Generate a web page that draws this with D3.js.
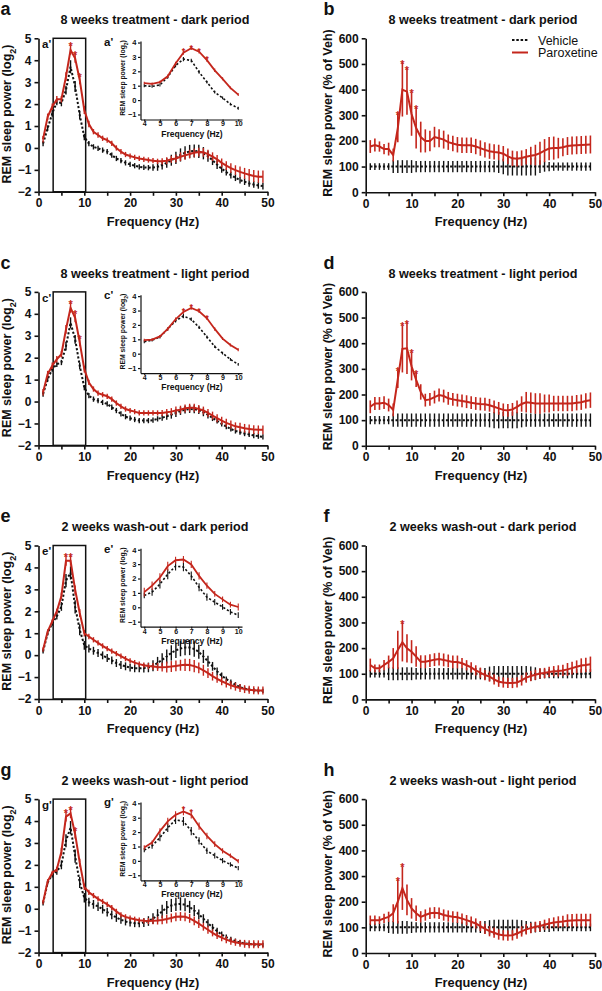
<!DOCTYPE html>
<html><head><meta charset="utf-8">
<script src="https://cdn.jsdelivr.net/npm/d3@7"></script>
<style>
body{margin:0;background:#fff}
svg{display:block}
text{font-family:"Liberation Sans",Arial,Helvetica,sans-serif;fill:#111}
</style>
</head><body>
<svg id="chart" width="602" height="991"></svg>
<script>
// ---------------- DATA ----------------
const freq = [1,2,3,4,5,6,7,8,9,10,11,12,13,14,15,16,17,18,19,20,21,22,23,24,25,26,27,28,29,30,31,32,33,34,35,36,37,38,39,40,41,42,43,44,45,46,47,48,49];
const insetFreq = [4,4.5,5,5.5,6,6.5,7,7.5,8,8.5,9,9.5,10];
const logTicks = [-2,-1,0,1,2,3,4,5];
const pctTicks = [0,100,200,300,400,500,600];
const freqTicks = [0,10,20,30,40,50];
const freqMinorTicks = [5,15,25,35,45];
const insetFreqTicks = [4,5,6,7,8,9,10];
const insetLogTicks = [-1,0,1,2,3,4];
const seriesNames = ["Vehicle","Paroxetine"];
const rowTitles = ["8 weeks treatment - dark period","8 weeks treatment - light period","2 weeks wash-out - dark period","2 weeks wash-out - light period"];
const leftLetters = ["a","c","e","g"];
const rightLetters = ["b","d","f","h"];

// Panel a (log2 power)
const aVeh = [0.2,0.9,1.57,2.1,2.05,2.64,3.7,2.8,1.5,0.5, 0.2,0.05,-0.02,-0.1,-0.17,-0.33,-0.48,-0.58,-0.68,-0.75, -0.81,-0.86,-0.89,-0.9,-0.89,-0.86,-0.78,-0.68,-0.56,-0.45, -0.32,-0.22,-0.16,-0.14,-0.16,-0.24,-0.38,-0.56,-0.76,-0.95, -1.1,-1.24,-1.36,-1.47,-1.54,-1.62,-1.67,-1.71,-1.74];
const aVehSem = [0.12,0.12,0.15,0.15,0.15,0.2,0.3,0.25,0.2,0.15, 0.12,0.12,0.12,0.12,0.12,0.12,0.12,0.12,0.12,0.12, 0.12,0.12,0.12,0.12,0.15,0.18,0.2,0.22,0.25,0.28, 0.3,0.3,0.3,0.3,0.3,0.28,0.25,0.22,0.2,0.18, 0.16,0.15,0.15,0.15,0.15,0.15,0.15,0.15,0.15];
const aPar = [0.4,1.42,1.88,2.22,2.22,3.25,4.47,4.09,3.1,1.73, 1.09,0.74,0.59,0.44,0.36,0.21,0,-0.17,-0.3,-0.37, -0.43,-0.48,-0.52,-0.55,-0.58,-0.61,-0.61,-0.58,-0.52,-0.48, -0.4,-0.34,-0.28,-0.22,-0.19,-0.2,-0.28,-0.4,-0.52,-0.68, -0.81,-0.92,-1.01,-1.09,-1.16,-1.22,-1.28,-1.31,-1.31];
const aParSem = [0.15,0.15,0.15,0.15,0.15,0.2,0.22,0.2,0.2,0.18, 0.15,0.12,0.12,0.12,0.12,0.12,0.12,0.12,0.12,0.12, 0.12,0.12,0.12,0.12,0.12,0.12,0.14,0.15,0.16,0.18, 0.2,0.2,0.2,0.2,0.2,0.2,0.2,0.2,0.2,0.2, 0.2,0.22,0.22,0.24,0.25,0.26,0.27,0.28,0.28];
const aStars = [7,8,9];
const aInsVeh = [1.0,0.95,1.05,1.6,2.4,2.85,2.75,1.95,1.25,0.55,0.15,-0.28,-0.57];
const aInsVehSem = [0.1,0.1,0.1,0.1,0.12,0.15,0.12,0.12,0.1,0.1,0.1,0.1,0.1];
const aInsPar = [1.18,1.13,1.25,1.65,2.54,3.3,3.6,3.36,2.78,2.07,1.48,0.85,0.38];
const aInsParSem = [0.1,0.1,0.1,0.12,0.12,0.15,0.12,0.12,0.12,0.12,0.1,0.1,0.1];
const aInsStars = [6.5,7,7.5,8];

// Panel c
const cVeh = [0.34,1.02,1.48,1.7,1.78,2.53,3.59,2.84,1.63,0.64, 0.27,0.11,0.04,-0.04,-0.11,-0.26,-0.41,-0.56,-0.69,-0.76, -0.82,-0.87,-0.87,-0.87,-0.85,-0.79,-0.74,-0.67,-0.6,-0.52, -0.43,-0.37,-0.34,-0.35,-0.39,-0.49,-0.61,-0.75,-0.88,-1.02, -1.14,-1.25,-1.34,-1.4,-1.46,-1.5,-1.55,-1.58,-1.61];
const cVehSem = [0.12,0.12,0.12,0.12,0.12,0.2,0.25,0.2,0.15,0.12, 0.12,0.12,0.12,0.12,0.12,0.12,0.12,0.12,0.12,0.12, 0.12,0.12,0.12,0.12,0.12,0.12,0.14,0.16,0.18,0.18, 0.18,0.18,0.18,0.18,0.18,0.18,0.16,0.14,0.12,0.12, 0.12,0.12,0.12,0.12,0.12,0.12,0.12,0.12,0.12];
const cPar = [0.42,1.25,1.63,1.93,2.16,3.29,4.27,3.82,2.7,1.48, 0.87,0.57,0.38,0.31,0.24,0.11,-0.07,-0.22,-0.34,-0.41, -0.46,-0.52,-0.52,-0.52,-0.52,-0.52,-0.52,-0.49,-0.46,-0.41, -0.37,-0.31,-0.28,-0.28,-0.34,-0.41,-0.52,-0.64,-0.76,-0.87, -0.97,-1.05,-1.13,-1.17,-1.22,-1.25,-1.28,-1.29,-1.29];
const cParSem = [0.15,0.15,0.15,0.15,0.15,0.2,0.22,0.2,0.18,0.15, 0.12,0.12,0.12,0.12,0.12,0.12,0.12,0.12,0.12,0.12, 0.12,0.12,0.12,0.12,0.12,0.12,0.14,0.15,0.16,0.18, 0.18,0.18,0.18,0.18,0.18,0.18,0.18,0.18,0.18,0.18, 0.18,0.18,0.18,0.2,0.2,0.2,0.2,0.2,0.2];
const cStars = [7,8,9];
const cInsVeh = [0.83,0.94,1.16,1.72,2.28,2.62,2.39,1.83,1.16,0.49,0.04,-0.4,-0.74];
const cInsVehSem = [0.1,0.1,0.1,0.1,0.12,0.15,0.12,0.12,0.1,0.1,0.1,0.1,0.1];
const cInsPar = [0.94,0.98,1.2,1.72,2.39,2.9,3.18,2.95,2.46,1.72,1.05,0.6,0.27];
const cInsParSem = [0.1,0.1,0.1,0.12,0.12,0.12,0.12,0.12,0.12,0.12,0.1,0.1,0.1];
const cInsStars = [6.5,7,7.5,8];

// Panel e
const eVeh = [0.17,1.0,1.46,1.77,2.22,3.4,3.75,2.2,1.16,0.45, 0.3,0.2,0.1,-0.01,-0.13,-0.24,-0.36,-0.45,-0.51,-0.57, -0.6,-0.6,-0.59,-0.56,-0.48,-0.36,-0.21,-0.06,0.1,0.22, 0.3,0.35,0.35,0.28,0.15,-0.06,-0.28,-0.51,-0.74,-0.94, -1.09,-1.23,-1.35,-1.45,-1.53,-1.57,-1.6,-1.62,-1.63];
const eVehSem = [0.1,0.1,0.12,0.15,0.2,0.3,0.3,0.3,0.25,0.2, 0.18,0.18,0.18,0.18,0.18,0.18,0.18,0.18,0.18,0.18, 0.18,0.18,0.2,0.22,0.25,0.28,0.3,0.32,0.35,0.35, 0.35,0.35,0.35,0.35,0.32,0.3,0.25,0.2,0.18,0.15, 0.12,0.12,0.12,0.12,0.1,0.1,0.1,0.1,0.1];
const ePar = [0.25,1.08,1.54,2.0,2.7,4.3,4.3,2.98,1.92,1.0, 0.85,0.7,0.56,0.42,0.3,0.18,0.07,-0.05,-0.16,-0.26, -0.34,-0.41,-0.46,-0.5,-0.52,-0.54,-0.55,-0.54,-0.52,-0.49, -0.46,-0.44,-0.45,-0.5,-0.58,-0.69,-0.82,-0.96,-1.08,-1.19, -1.29,-1.37,-1.44,-1.5,-1.55,-1.58,-1.6,-1.61,-1.61];
const eParSem = [0.1,0.1,0.1,0.12,0.15,0.22,0.22,0.2,0.18,0.15, 0.12,0.12,0.12,0.12,0.12,0.12,0.12,0.12,0.12,0.12, 0.12,0.12,0.12,0.14,0.16,0.18,0.2,0.25,0.25,0.25, 0.25,0.28,0.28,0.28,0.25,0.25,0.22,0.2,0.18,0.18, 0.18,0.18,0.18,0.18,0.18,0.18,0.18,0.18,0.18];
const eStars = [6,7];
const eInsVeh = [0.82,1.05,1.61,2.3,2.86,2.8,2.18,1.39,0.7,0.36,0.02,-0.32,-0.55];
const eInsVehSem = [0.2,0.25,0.3,0.35,0.3,0.3,0.3,0.28,0.25,0.22,0.2,0.2,0.2];
const eInsPar = [1.05,1.5,2.07,2.86,3.27,3.32,2.98,2.18,1.5,0.93,0.55,0.18,0.02];
const eInsParSem = [0.3,0.3,0.3,0.3,0.25,0.25,0.25,0.25,0.22,0.2,0.2,0.2,0.25];
const eInsStars = [];

// Panel g
const gVeh = [0.25,1.2,1.55,1.7,2.0,3.1,3.7,2.4,1.2,0.5, 0.3,0.2,0.1,-0.02,-0.15,-0.28,-0.4,-0.5,-0.58,-0.63, -0.66,-0.66,-0.63,-0.56,-0.45,-0.3,-0.12,0.05,0.15,0.2, 0.22,0.18,0.08,-0.08,-0.25,-0.45,-0.66,-0.85,-1.02,-1.18, -1.3,-1.4,-1.48,-1.54,-1.58,-1.61,-1.63,-1.64,-1.65];
const gVehSem = [0.1,0.1,0.12,0.15,0.2,0.3,0.3,0.3,0.25,0.22, 0.2,0.2,0.2,0.2,0.2,0.2,0.2,0.18,0.18,0.18, 0.18,0.18,0.2,0.22,0.25,0.28,0.3,0.3,0.3,0.3, 0.3,0.3,0.28,0.25,0.22,0.2,0.18,0.16,0.15,0.14, 0.12,0.12,0.12,0.12,0.1,0.1,0.1,0.1,0.1];
const gPar = [0.3,1.25,1.63,1.8,2.6,4.2,4.35,3.4,2.1,1.0, 0.75,0.6,0.45,0.33,0.2,0.05,-0.12,-0.28,-0.37,-0.43, -0.48,-0.52,-0.55,-0.56,-0.55,-0.54,-0.51,-0.47,-0.42,-0.37, -0.35,-0.37,-0.44,-0.55,-0.68,-0.82,-0.96,-1.1,-1.22,-1.32, -1.41,-1.48,-1.53,-1.57,-1.6,-1.62,-1.62,-1.62,-1.62];
const gParSem = [0.1,0.1,0.1,0.12,0.18,0.22,0.22,0.2,0.18,0.15, 0.12,0.12,0.12,0.12,0.12,0.12,0.12,0.12,0.12,0.12, 0.12,0.12,0.12,0.14,0.16,0.18,0.2,0.2,0.2,0.2, 0.2,0.2,0.2,0.2,0.2,0.18,0.18,0.16,0.16,0.16, 0.16,0.16,0.16,0.16,0.18,0.18,0.18,0.18,0.18];
const gStars = [6,7,8];
const gInsVeh = [0.75,1.05,1.61,2.3,2.86,2.75,2.07,1.39,0.7,0.36,0.02,-0.25,-0.5];
const gInsVehSem = [0.15,0.2,0.25,0.3,0.3,0.3,0.28,0.25,0.22,0.2,0.18,0.15,0.15];
const gInsPar = [0.93,1.27,2.07,2.75,3.2,3.43,3.2,2.41,1.73,1.16,0.7,0.36,-0.02];
const gInsParSem = [0.15,0.15,0.2,0.25,0.25,0.25,0.25,0.25,0.22,0.2,0.18,0.15,0.15];
const gInsStars = [6.5,7];

// Right panels (% of vehicle)
const vehPct = [100,100,100,100,100,100,100,100,100,100, 100,100,100,100,100,100,100,100,100,100, 100,100,100,100,100,100,100,100,100,100, 100,100,100,100,100,100,100,100,100,100, 100,100,100,100,100,100,100,100,100];
const bVehSem = [13,13,13,13,13,25,25,25,25,25, 22,22,22,22,22,22,22,22,22,22, 22,22,22,22,22,22,22,22,25,30, 35,35,35,35,35,35,35,25,20,18, 16,16,16,16,16,16,16,16,16];
const bPar = [178,184,178,168,168,145,250,400,392,305, 250,215,200,200,215,210,205,195,190,185, 183,183,183,178,172,165,160,157,155,150, 140,132,130,133,138,142,145,152,162,170, 172,172,175,180,182,183,184,185,186];
const bParSem = [25,25,20,20,25,25,55,105,90,85, 80,60,45,40,40,35,35,30,30,30, 30,30,30,30,30,30,30,30,30,30, 30,30,30,30,30,35,40,45,45,45, 45,40,35,35,35,35,35,35,35];
const bStars = [7,8,9,10,11];

const dVehSem = [16,16,16,16,16,26,26,26,26,26, 26,26,26,26,26,26,26,26,26,26, 26,26,26,26,26,26,28,32,32,32, 32,32,32,28,26,26,26,26,26,26, 26,26,26,26,26,26,26,26,26];
const dPar = [152,165,165,168,159,140,260,378,380,310, 257,210,178,181,190,198,194,185,181,178, 175,172,168,165,163,162,158,152,146,140, 138,142,152,163,170,168,165,165,165,165, 165,165,165,165,165,168,170,175,178];
const dParSem = [25,25,25,25,25,25,35,92,100,55, 28,30,25,25,25,25,25,25,25,25, 25,25,25,25,25,25,25,25,25,25, 25,25,25,30,40,40,40,40,35,35, 30,30,30,30,30,30,30,30,30];
const dStars = [7,8,9,10,11];

const fVehSem = [15,15,15,15,25,25,25,25,25,25, 22,22,22,22,22,22,22,22,22,22, 22,22,22,22,22,22,28,30,30,30, 30,30,30,30,30,28,25,20,18,18, 18,18,18,18,18,18,18,18,18];
const fPar = [134,121,121,134,146,160,193,223,199,186, 167,147,147,151,155,157,154,150,146,146, 141,133,125,113,104,95,89,78,69,66, 64,64,66,74,85,91,96,101,103,107, 110,111,113,117,122,127,132,134,137];
const fParSem = [25,15,15,20,25,40,75,75,55,45, 40,25,25,25,25,25,25,25,25,25, 20,20,20,20,20,20,20,20,20,20, 20,20,20,20,20,20,20,20,20,20, 20,22,22,25,25,25,28,28,30];
const fStars = [8];

const hVehSem = [15,15,15,15,22,25,25,25,25,22, 20,20,20,20,20,20,20,20,20,20, 20,20,20,20,22,25,28,30,30,30, 30,30,30,28,25,22,20,18,18,18, 15,15,15,15,15,15,15,15,15];
const hPar = [128,128,128,135,141,155,200,253,207,174, 155,141,148,155,157,155,148,144,141,139, 134,128,122,115,105,94,85,79,72,69, 68,69,76,84,92,97,102,105,110,115, 119,121,123,126,127,128,128,128,128];
const hParSem = [18,18,15,18,20,35,85,85,60,40, 30,22,22,22,22,22,22,22,22,22, 20,20,20,20,20,20,20,20,20,20, 20,20,20,20,20,20,20,20,20,20, 20,22,22,25,25,25,25,25,25];
const hStars = [7,8];

// ---------------- DRAWING ----------------
const RED = "#c4261c";
const BLACK = "#111";
const ROW = 253.6;
const svg = d3.select("#chart");

const leftPanels = [
  {veh:aVeh, vehSem:aVehSem, par:aPar, parSem:aParSem, stars:aStars,
   ins:{veh:aInsVeh, vehSem:aInsVehSem, par:aInsPar, parSem:aInsParSem, stars:aInsStars}},
  {veh:cVeh, vehSem:cVehSem, par:cPar, parSem:cParSem, stars:cStars,
   ins:{veh:cInsVeh, vehSem:cInsVehSem, par:cInsPar, parSem:cInsParSem, stars:cInsStars}},
  {veh:eVeh, vehSem:eVehSem, par:ePar, parSem:eParSem, stars:eStars,
   ins:{veh:eInsVeh, vehSem:eInsVehSem, par:eInsPar, parSem:eInsParSem, stars:eInsStars}},
  {veh:gVeh, vehSem:gVehSem, par:gPar, parSem:gParSem, stars:gStars,
   ins:{veh:gInsVeh, vehSem:gInsVehSem, par:gInsPar, parSem:gInsParSem, stars:gInsStars}}
];
const rightPanels = [
  {vehSem:bVehSem, par:bPar, parSem:bParSem, stars:bStars},
  {vehSem:dVehSem, par:dPar, parSem:dParSem, stars:dStars},
  {vehSem:fVehSem, par:fPar, parSem:fParSem, stars:fStars},
  {vehSem:hVehSem, par:hPar, parSem:hParSem, stars:hStars}
];

function styleAxis(g, w, fs) {
  g.select(".domain").attr("stroke", BLACK).attr("stroke-width", w);
  g.selectAll(".tick line").attr("stroke", BLACK).attr("stroke-width", w);
  g.selectAll(".tick text").attr("fill", BLACK).style("font-size", fs + "px").style("font-weight", "bold")
    .style("font-family", '"Liberation Sans",Arial,sans-serif');
}

function drawSeries(g, x, y, xs, mean, sem, color, dashed, lw, ebw) {
  const pts = xs.map((f, i) => ({f, m: mean[i], s: sem[i]}));
  g.append("g").selectAll("line").data(pts).join("line")
    .attr("x1", d => x(d.f)).attr("x2", d => x(d.f))
    .attr("y1", d => y(d.m - d.s)).attr("y2", d => y(d.m + d.s))
    .attr("stroke", color).attr("stroke-width", ebw);
  g.append("path").datum(pts)
    .attr("d", d3.line().x(d => x(d.f)).y(d => y(d.m)))
    .attr("fill", "none").attr("stroke", color).attr("stroke-width", lw)
    .attr("stroke-dasharray", dashed ? "2.2,2" : null);
}

function drawStars(g, x, y, xs, mean, sem, stars, fs, gap) {
  const pts = stars.map(f => { const i = xs.indexOf(f); return {f, top: mean[i] + sem[i]}; });
  g.append("g").selectAll("text").data(pts).join("text")
    .attr("x", d => x(d.f)).attr("y", d => y(d.top) + gap)
    .attr("text-anchor", "middle").style("font-size", fs + "px").style("font-weight", "bold")
    .style("fill", RED).text("*");
}

function xAxisBlock(g, x, yPix, ticks, minor, size, fs) {
  const ax = g.append("g").attr("transform", `translate(0,${yPix})`)
    .call(d3.axisBottom(x).tickValues(ticks).tickSize(size).tickSizeOuter(0).tickPadding(3).tickFormat(d3.format("d")));
  styleAxis(ax, 1.6, fs);
  if (minor) {
    const mx = g.append("g").attr("transform", `translate(0,${yPix})`)
      .call(d3.axisBottom(x).tickValues(minor).tickSize(size).tickSizeOuter(0).tickFormat(""));
    mx.select(".domain").remove();
    mx.selectAll(".tick line").attr("stroke", BLACK).attr("stroke-width", 1.6);
  }
}

leftPanels.forEach((p, i) => {
  const oy = i * ROW;
  const g = svg.append("g");
  const x = d3.scaleLinear().domain([0, 50]).range([38.5, 267.5]);
  const y = d3.scaleLinear().domain([-2, 5]).range([oy + 191.8, oy + 38.3]);

  g.append("text").attr("x", 0.5).attr("y", oy + 15).style("font-size", "18px").style("font-weight", "bold").text(leftLetters[i]);
  g.append("text").attr("x", 155).attr("y", oy + 24).attr("text-anchor", "middle")
    .style("font-size", "12.6px").style("font-weight", "bold").text(rowTitles[i]);

  // y axis
  const ya = g.append("g").attr("transform", "translate(38.5,0)")
    .call(d3.axisLeft(y).tickValues(logTicks).tickSize(4).tickSizeOuter(0).tickPadding(3).tickFormat(d3.format("d")));
  styleAxis(ya, 1.6, 12);
  xAxisBlock(g, x, oy + 191.8, freqTicks, freqMinorTicks, 4, 12);

  // axis titles
  g.append("text").attr("x", 153).attr("y", oy + 226).attr("text-anchor", "middle")
    .style("font-size", "12.8px").style("font-weight", "bold").text("Frequency (Hz)");
  const yt = g.append("text").attr("transform", `translate(10.5,${oy + 114}) rotate(-90)`).attr("text-anchor", "middle")
    .style("font-size", "12.5px").style("font-weight", "bold");
  yt.append("tspan").text("REM sleep power (log");
  yt.append("tspan").attr("baseline-shift", "sub").style("font-size", "9px").text("2");
  yt.append("tspan").text(")");

  // zoom rectangle
  g.append("rect").attr("x", x(3.2)).attr("y", y(5)).attr("width", x(10.3) - x(3.2)).attr("height", y(-2) - y(5))
    .attr("fill", "none").attr("stroke", BLACK).attr("stroke-width", 1.5);
  g.append("text").attr("x", 42).attr("y", oy + 48).style("font-size", "11.5px").style("font-weight", "bold").text(leftLetters[i] + "'");

  drawSeries(g, x, y, freq, p.veh, p.vehSem, BLACK, true, 2, 1.4);
  drawSeries(g, x, y, freq, p.par, p.parSem, RED, false, 2, 1.4);
  drawStars(g, x, y, freq, p.par, p.parSem, p.stars, 11, 5);

  // inset
  const ix = d3.scaleLinear().domain([3.76, 10.24]).range([140.5, 242]);
  const iy = d3.scaleLinear().domain([-1.35, 4.1]).range([oy + 119.5, oy + 41.1]);
  const iya = g.append("g").attr("transform", "translate(140.5,0)")
    .call(d3.axisLeft(iy).tickValues(insetLogTicks).tickSize(2.5).tickSizeOuter(0).tickPadding(1.5).tickFormat(d3.format("d")));
  styleAxis(iya, 1.2, 7.5);
  const ixa = g.append("g").attr("transform", `translate(0,${oy + 119.5})`)
    .call(d3.axisBottom(ix).tickValues(insetFreqTicks).tickSize(2).tickSizeOuter(0).tickPadding(0).tickFormat(d3.format("d")));
  styleAxis(ixa, 1.2, 7);
  g.append("text").attr("x", 192).attr("y", oy + 136.5).attr("text-anchor", "middle")
    .style("font-size", "8.5px").style("font-weight", "bold").text("Frequency (Hz)");
  const iyt = g.append("text").attr("transform", `translate(124.8,${oy + 78}) rotate(-90)`).attr("text-anchor", "middle")
    .style("font-size", "6.8px").style("font-weight", "bold");
  iyt.append("tspan").text("REM sleep power (log");
  iyt.append("tspan").attr("baseline-shift", "sub").style("font-size", "5px").text("2");
  iyt.append("tspan").text(")");
  g.append("text").attr("x", 104).attr("y", oy + 45.5).style("font-size", "11.5px").style("font-weight", "bold").text(leftLetters[i] + "'");

  drawSeries(g, ix, iy, insetFreq, p.ins.veh, p.ins.vehSem, BLACK, true, 1.6, 1.1);
  drawSeries(g, ix, iy, insetFreq, p.ins.par, p.ins.parSem, RED, false, 1.8, 1.1);
  drawStars(g, ix, iy, insetFreq, p.ins.par, p.ins.parSem, p.ins.stars, 9, 4);
});

rightPanels.forEach((p, i) => {
  const oy = i * ROW;
  const g = svg.append("g");
  const x = d3.scaleLinear().domain([0, 50]).range([365.7, 595]);
  const y = d3.scaleLinear().domain([0, 600]).range([oy + 192.2, oy + 38.3]);

  g.append("text").attr("x", 323.5).attr("y", oy + 15).style("font-size", "18px").style("font-weight", "bold").text(rightLetters[i]);
  g.append("text").attr("x", 483).attr("y", oy + 24).attr("text-anchor", "middle")
    .style("font-size", "12.6px").style("font-weight", "bold").text(rowTitles[i]);

  const ya = g.append("g").attr("transform", "translate(365.7,0)")
    .call(d3.axisLeft(y).tickValues(pctTicks).tickSize(4).tickSizeOuter(0).tickPadding(3).tickFormat(d3.format("d")));
  styleAxis(ya, 1.6, 12);
  xAxisBlock(g, x, oy + 192.2, freqTicks, freqMinorTicks, 4, 12);

  g.append("text").attr("x", 481).attr("y", oy + 226).attr("text-anchor", "middle")
    .style("font-size", "12.8px").style("font-weight", "bold").text("Frequency (Hz)");
  g.append("text").attr("transform", `translate(331.5,${oy + 113}) rotate(-90)`).attr("text-anchor", "middle")
    .style("font-size", "12.5px").style("font-weight", "bold").text("REM sleep power (% of Veh)");

  drawSeries(g, x, y, freq, vehPct, p.vehSem, BLACK, true, 2, 1.4);
  drawSeries(g, x, y, freq, p.par, p.parSem, RED, false, 2, 1.6);
  drawStars(g, x, y, freq, p.par, p.parSem, p.stars, 11, 5);

  if (i === 0) {
    const lg = g.append("g");
    lg.append("line").attr("x1", 512).attr("x2", 528).attr("y1", 40).attr("y2", 40)
      .attr("stroke", BLACK).attr("stroke-width", 2).attr("stroke-dasharray", "2.5,1.8");
    lg.append("text").attr("x", 538).attr("y", 44.5).style("font-size", "12.5px").text(seriesNames[0]);
    lg.append("line").attr("x1", 512).attr("x2", 528).attr("y1", 52.5).attr("y2", 52.5)
      .attr("stroke", RED).attr("stroke-width", 2);
    lg.append("text").attr("x", 538).attr("y", 57).style("font-size", "12.5px").text(seriesNames[1]);
  }
});
</script>
</body></html>
